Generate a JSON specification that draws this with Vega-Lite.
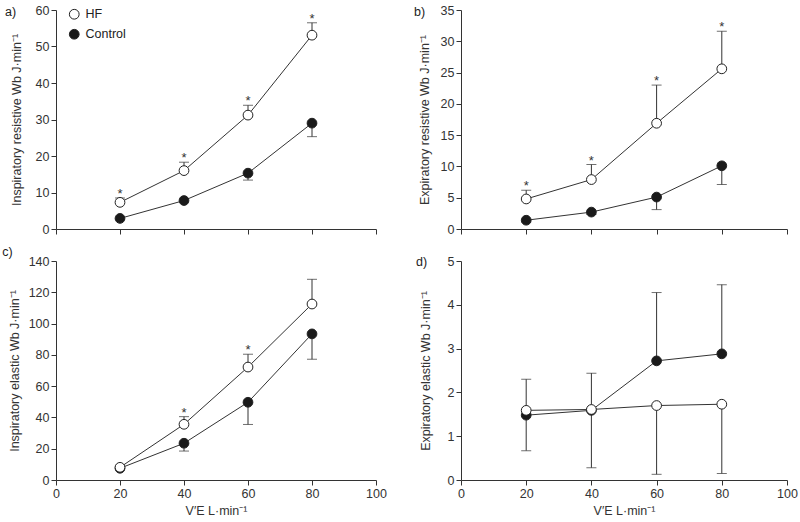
{
  "$schema": "https://vega.github.io/schema/vega-lite/v6.json",
  "padding": {"left": 2, "top": 4, "right": 5, "bottom": 5},
  "background": "white",
  "data": {"values": [
    {"panel": "a", "group": "Control", "x": 20, "y": 2.9, "err": 2.6, "sig": false},
    {"panel": "a", "group": "Control", "x": 40, "y": 7.8, "err": 7.4, "sig": false},
    {"panel": "a", "group": "Control", "x": 60, "y": 15.3, "err": 13.4, "sig": false},
    {"panel": "a", "group": "Control", "x": 80, "y": 29.0, "err": 25.3, "sig": false},
    {"panel": "a", "group": "HF", "x": 20, "y": 7.3, "err": 8.5, "sig": true},
    {"panel": "a", "group": "HF", "x": 40, "y": 16.0, "err": 18.3, "sig": true},
    {"panel": "a", "group": "HF", "x": 60, "y": 31.2, "err": 33.9, "sig": true},
    {"panel": "a", "group": "HF", "x": 80, "y": 53.1, "err": 56.5, "sig": true},
    {"panel": "b", "group": "Control", "x": 20, "y": 1.4, "err": 1.1, "sig": false},
    {"panel": "b", "group": "Control", "x": 40, "y": 2.7, "err": 2.3, "sig": false},
    {"panel": "b", "group": "Control", "x": 60, "y": 5.1, "err": 3.1, "sig": false},
    {"panel": "b", "group": "Control", "x": 80, "y": 10.1, "err": 7.1, "sig": false},
    {"panel": "b", "group": "HF", "x": 20, "y": 4.8, "err": 6.2, "sig": true},
    {"panel": "b", "group": "HF", "x": 40, "y": 7.9, "err": 10.3, "sig": true},
    {"panel": "b", "group": "HF", "x": 60, "y": 16.9, "err": 23.0, "sig": true},
    {"panel": "b", "group": "HF", "x": 80, "y": 25.6, "err": 31.6, "sig": true},
    {"panel": "c", "group": "Control", "x": 20, "y": 7.5, "err": 6.5, "sig": false},
    {"panel": "c", "group": "Control", "x": 40, "y": 23.5, "err": 18.5, "sig": false},
    {"panel": "c", "group": "Control", "x": 60, "y": 49.7, "err": 35.5, "sig": false},
    {"panel": "c", "group": "Control", "x": 80, "y": 93.4, "err": 77.2, "sig": false},
    {"panel": "c", "group": "HF", "x": 20, "y": 8.1, "err": 9.0, "sig": false},
    {"panel": "c", "group": "HF", "x": 40, "y": 35.6, "err": 40.5, "sig": true},
    {"panel": "c", "group": "HF", "x": 60, "y": 72.2, "err": 80.4, "sig": true},
    {"panel": "c", "group": "HF", "x": 80, "y": 112.5, "err": 128.3, "sig": false},
    {"panel": "d", "group": "Control", "x": 20, "y": 1.48, "err": 0.67, "sig": false},
    {"panel": "d", "group": "Control", "x": 40, "y": 1.59, "err": 0.28, "sig": false},
    {"panel": "d", "group": "Control", "x": 60, "y": 2.72, "err": 4.28, "sig": false},
    {"panel": "d", "group": "Control", "x": 80, "y": 2.88, "err": 4.46, "sig": false},
    {"panel": "d", "group": "HF", "x": 20, "y": 1.59, "err": 2.30, "sig": false},
    {"panel": "d", "group": "HF", "x": 40, "y": 1.61, "err": 2.44, "sig": false},
    {"panel": "d", "group": "HF", "x": 60, "y": 1.70, "err": 0.13, "sig": false},
    {"panel": "d", "group": "HF", "x": 80, "y": 1.73, "err": 0.15, "sig": false}
  ]},
  "columns": 2,
  "spacing": {"row": 32, "column": 85},
  "bounds": "flush",
  "resolve": {"legend": {"fill": "independent"}},
  "concat": [
    {
      "width": 320, "height": 219,
      "title": {"text": "a)", "anchor": "start", "frame": "bounds", "offset": -14, "dx": -5},
      "transform": [{"filter": "datum.panel === 'a'"}],
      "encoding": {
        "x": {"field": "x", "type": "quantitative", "scale": {"domain": [0, 100], "nice": false}, "axis": {"values": [0, 20, 40, 60, 80, 100], "labels": false, "title": null}},
        "y": {"field": "y", "type": "quantitative", "scale": {"domain": [0, 60], "nice": false}, "axis": {"values": [0, 10, 20, 30, 40, 50, 60], "title": "Inspiratory resistive Wb J·min⁻¹", "titlePadding": 12}}
      },
      "layer": [
        {"mark": {"type": "line", "color": "#333", "strokeWidth": 1}, "encoding": {"detail": {"field": "group"}}},
        {"mark": {"type": "rule", "color": "#333", "strokeWidth": 1}, "encoding": {"y2": {"field": "err"}}},
        {"mark": {"type": "tick", "orient": "horizontal", "size": 10, "thickness": 1, "color": "#333"}, "encoding": {"y": {"field": "err", "type": "quantitative"}}},
        {"mark": {"type": "text", "text": "*", "fontSize": 13, "baseline": "alphabetic", "color": "#333"}, "transform": [{"filter": "datum.sig"}], "encoding": {"y": {"field": "err", "type": "quantitative"}}},
        {"mark": {"type": "circle", "size": 95, "opacity": 1, "stroke": "#222", "strokeWidth": 1},
         "encoding": {"fill": {"field": "group", "type": "nominal", "scale": {"domain": ["HF", "Control"], "range": ["white", "#1a1a1a"]},
           "legend": {"title": null, "orient": "none", "legendX": 12, "legendY": -2, "symbolType": "circle", "symbolSize": 95, "symbolStrokeColor": "#222", "symbolStrokeWidth": 1, "labelFontSize": 12.5, "labelColor": "#222", "labelOffset": 5, "rowPadding": 5, "padding": 0}}}}
      ]
    },
    {
      "width": 326, "height": 219,
      "title": {"text": "b)", "anchor": "start", "frame": "bounds", "offset": -14, "dx": -4},
      "transform": [{"filter": "datum.panel === 'b'"}],
      "encoding": {
        "x": {"field": "x", "type": "quantitative", "scale": {"domain": [0, 100], "nice": false}, "axis": {"values": [0, 20, 40, 60, 80, 100], "labels": false, "title": null}},
        "y": {"field": "y", "type": "quantitative", "scale": {"domain": [0, 35], "nice": false}, "axis": {"values": [0, 5, 10, 15, 20, 25, 30, 35], "title": "Expiratory resistive Wb J·min⁻¹", "titlePadding": 9}}
      },
      "layer": [
        {"mark": {"type": "line", "color": "#333", "strokeWidth": 1}, "encoding": {"detail": {"field": "group"}}},
        {"mark": {"type": "rule", "color": "#333", "strokeWidth": 1}, "encoding": {"y2": {"field": "err"}}},
        {"mark": {"type": "tick", "orient": "horizontal", "size": 10, "thickness": 1, "color": "#333"}, "encoding": {"y": {"field": "err", "type": "quantitative"}}},
        {"mark": {"type": "text", "text": "*", "fontSize": 13, "baseline": "alphabetic", "color": "#333"}, "transform": [{"filter": "datum.sig"}], "encoding": {"y": {"field": "err", "type": "quantitative"}}},
        {"mark": {"type": "circle", "size": 95, "opacity": 1, "stroke": "#222", "strokeWidth": 1},
         "encoding": {"fill": {"field": "group", "type": "nominal", "scale": {"domain": ["HF", "Control"], "range": ["white", "#1a1a1a"]}, "legend": null}}}
      ]
    },
    {
      "width": 320, "height": 219,
      "title": {"text": "c)", "anchor": "start", "frame": "bounds", "offset": -3, "dx": -6},
      "transform": [{"filter": "datum.panel === 'c'"}],
      "encoding": {
        "x": {"field": "x", "type": "quantitative", "scale": {"domain": [0, 100], "nice": false}, "axis": {"values": [0, 20, 40, 60, 80, 100], "title": "V′E L·min⁻¹", "titlePadding": 5}},
        "y": {"field": "y", "type": "quantitative", "scale": {"domain": [0, 140], "nice": false}, "axis": {"values": [0, 20, 40, 60, 80, 100, 120, 140], "title": "Inspiratory elastic Wb J·min⁻¹", "titlePadding": 7}}
      },
      "layer": [
        {"mark": {"type": "line", "color": "#333", "strokeWidth": 1}, "encoding": {"detail": {"field": "group"}}},
        {"mark": {"type": "rule", "color": "#333", "strokeWidth": 1}, "encoding": {"y2": {"field": "err"}}},
        {"mark": {"type": "tick", "orient": "horizontal", "size": 10, "thickness": 1, "color": "#333"}, "encoding": {"y": {"field": "err", "type": "quantitative"}}},
        {"mark": {"type": "text", "text": "*", "fontSize": 13, "baseline": "alphabetic", "color": "#333"}, "transform": [{"filter": "datum.sig"}], "encoding": {"y": {"field": "err", "type": "quantitative"}}},
        {"mark": {"type": "circle", "size": 95, "opacity": 1, "stroke": "#222", "strokeWidth": 1},
         "encoding": {"fill": {"field": "group", "type": "nominal", "scale": {"domain": ["HF", "Control"], "range": ["white", "#1a1a1a"]}, "legend": null}}}
      ]
    },
    {
      "width": 326, "height": 219,
      "title": {"text": "d)", "anchor": "start", "frame": "bounds", "offset": -13, "dx": -3},
      "transform": [{"filter": "datum.panel === 'd'"}],
      "encoding": {
        "x": {"field": "x", "type": "quantitative", "scale": {"domain": [0, 100], "nice": false}, "axis": {"values": [0, 20, 40, 60, 80, 100], "title": "V′E L·min⁻¹", "titlePadding": 5}},
        "y": {"field": "y", "type": "quantitative", "scale": {"domain": [0, 5], "nice": false}, "axis": {"values": [0, 1, 2, 3, 4, 5], "title": "Expiratory elastic Wb J·min⁻¹", "titlePadding": 15}}
      },
      "layer": [
        {"mark": {"type": "line", "color": "#333", "strokeWidth": 1}, "encoding": {"detail": {"field": "group"}}},
        {"mark": {"type": "rule", "color": "#333", "strokeWidth": 1}, "encoding": {"y2": {"field": "err"}}},
        {"mark": {"type": "tick", "orient": "horizontal", "size": 10, "thickness": 1, "color": "#333"}, "encoding": {"y": {"field": "err", "type": "quantitative"}}},
        {"mark": {"type": "circle", "size": 95, "opacity": 1, "stroke": "#222", "strokeWidth": 1},
         "encoding": {"fill": {"field": "group", "type": "nominal", "scale": {"domain": ["HF", "Control"], "range": ["white", "#1a1a1a"]}, "legend": null}}}
      ]
    }
  ],
  "config": {
    "font": "Liberation Sans",
    "view": {"stroke": null},
    "title": {"fontSize": 12.5, "fontWeight": "normal", "color": "#222", "font": "Liberation Sans", "baseline": "bottom"},
    "axis": {
      "grid": false,
      "labelFlush": false,
      "labelOverlap": false,
      "domainColor": "#333",
      "tickColor": "#333",
      "tickSize": 5,
      "labelColor": "#333",
      "titleColor": "#333",
      "labelFontSize": 12.5,
      "titleFontSize": 12.5,
      "titleFontWeight": "normal",
      "labelFont": "Liberation Sans",
      "titleFont": "Liberation Sans"
    },
    "legend": {"labelFont": "Liberation Sans"}
  }
}
